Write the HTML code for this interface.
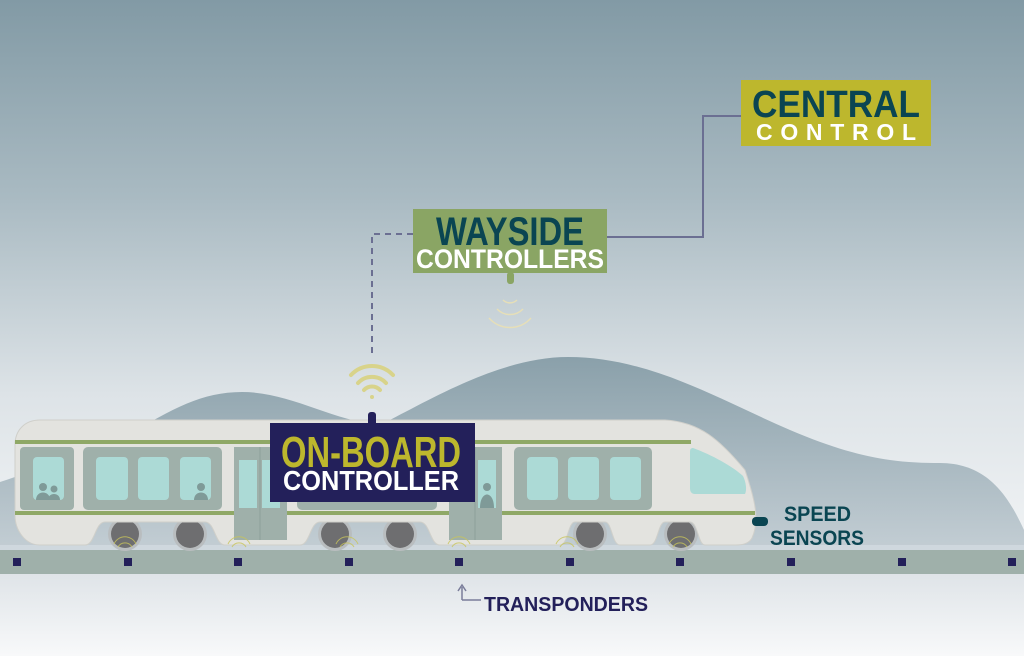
<!DOCTYPE html>
<html><head><meta charset="utf-8"><style>
html,body{margin:0;padding:0;width:1024px;height:656px;overflow:hidden;background:#fff}
svg{display:block}
text{font-family:"Liberation Sans Narrow","Liberation Sans",sans-serif;font-weight:bold}
</style></head><body>
<svg width="1024" height="656" viewBox="0 0 1024 656" xmlns="http://www.w3.org/2000/svg">
<defs>
<linearGradient id="sky" x1="0" y1="0" x2="0" y2="1">
<stop offset="0" stop-color="#829aa5"/><stop offset="0.3" stop-color="#a9bac2"/><stop offset="0.6" stop-color="#dde3e7"/><stop offset="0.8" stop-color="#eef1f3"/><stop offset="1" stop-color="#f6f7f8"/>
</linearGradient>
<linearGradient id="hill" x1="0" y1="0" x2="0" y2="1">
<stop offset="0" stop-color="#8aa0aa"/><stop offset="1" stop-color="#c6d0d6"/>
</linearGradient>
<linearGradient id="gnd" x1="0" y1="0" x2="0" y2="1">
<stop offset="0" stop-color="#dfe4e8"/><stop offset="1" stop-color="#f8f9fa"/>
</linearGradient>
</defs>
<rect width="1024" height="656" fill="url(#sky)"/>
<path d="M0,482 C40,470 70,450 120,440 C170,410 200,392 242,392 C290,392 330,420 380,425 C430,400 500,357 568,357 C650,357 720,400 790,430 C860,460 900,463 940,463 C990,463 1010,500 1024,530 L1024,560 L0,560 Z" fill="url(#hill)"/>
<rect x="0" y="545" width="1024" height="10" fill="#cfd8de"/>
<rect x="0" y="574" width="1024" height="82" fill="url(#gnd)"/>
<rect x="0" y="550" width="1024" height="24" fill="#9fb0aa"/>
<g fill="#23205a">
<rect x="13" y="558" width="8" height="8"/><rect x="124" y="558" width="8" height="8"/><rect x="234" y="558" width="8" height="8"/><rect x="345" y="558" width="8" height="8"/><rect x="455" y="558" width="8" height="8"/><rect x="566" y="558" width="8" height="8"/><rect x="676" y="558" width="8" height="8"/><rect x="787" y="558" width="8" height="8"/><rect x="898" y="558" width="8" height="8"/><rect x="1008" y="558" width="8" height="8"/>
</g>
<g>
<circle cx="125" cy="534" r="17" fill="#b9bdbf"/><circle cx="125" cy="534" r="14" fill="#6e6e70"/>
<circle cx="190" cy="534" r="17" fill="#b9bdbf"/><circle cx="190" cy="534" r="14" fill="#6e6e70"/>
<circle cx="335" cy="534" r="17" fill="#b9bdbf"/><circle cx="335" cy="534" r="14" fill="#6e6e70"/>
<circle cx="400" cy="534" r="17" fill="#b9bdbf"/><circle cx="400" cy="534" r="14" fill="#6e6e70"/>
<circle cx="590" cy="534" r="17" fill="#b9bdbf"/><circle cx="590" cy="534" r="14" fill="#6e6e70"/>
<circle cx="681" cy="534" r="17" fill="#b9bdbf"/><circle cx="681" cy="534" r="14" fill="#6e6e70"/>
</g>
<path d="M40,420 L665,420 C700,422 720,440 745,470 C755,500 760,520 752,538 C748,545 740,545 735,545 L705,545 C698,545 698,522 690,522 L665,522 C658,522 658,545 650,545 L620,545 C612,545 612,522 605,522 L575,522 C568,522 568,545 560,545 L440,545 C430,545 430,522 420,522 L320,522 C310,522 310,545 300,545 L225,545 C215,545 215,522 205,522 L105,522 C95,522 95,545 85,545 L40,545 C25,545 15,530 15,515 L15,445 C15,430 25,420 40,420 Z" fill="#e3e3df" stroke="#cfcfca"/>
<rect x="15" y="440" width="676" height="4" fill="#8fa866"/>
<rect x="15" y="511" width="740" height="4" fill="#8fa866"/>
<g fill="#9fb0aa">
<rect x="20" y="447" width="54" height="63" rx="4"/>
<rect x="83" y="447" width="139" height="63" rx="5"/>
<rect x="297" y="447" width="140" height="63" rx="5"/>
<rect x="514" y="447" width="138" height="63" rx="5"/>
<rect x="234" y="447" width="53" height="93"/>
<rect x="449" y="447" width="53" height="93"/>
</g>
<g fill="#acdad6">
<rect x="33" y="457" width="31" height="43" rx="4"/>
<rect x="96" y="457" width="32" height="43" rx="4"/><rect x="138" y="457" width="31" height="43" rx="4"/><rect x="180" y="457" width="31" height="43" rx="4"/>
<rect x="527" y="457" width="31" height="43" rx="4"/><rect x="568" y="457" width="31" height="43" rx="4"/><rect x="610" y="457" width="31" height="43" rx="4"/>
<rect x="239" y="460" width="18" height="48"/><rect x="262" y="460" width="18" height="48"/>
<rect x="478" y="460" width="18" height="48"/>
<path d="M693,448 C712,455 732,466 743,476 C746,482 747,490 745,494 L695,494 C691,494 690,491 690,488 L690,452 C690,449 691,448 693,448 Z"/>
</g>
<g fill="#7f9a98">
<circle cx="43" cy="487" r="4"/><path d="M36,500 C36,490 50,490 50,500 Z"/>
<circle cx="54" cy="489" r="3.5"/><path d="M48,500 C48,492 60,492 60,500 Z"/>
<circle cx="201" cy="487" r="4"/><path d="M194,500 C194,490 208,490 208,500 Z"/>
<circle cx="487" cy="487" r="4"/><path d="M480,508 C480,490 494,490 494,508 Z"/>
</g>
<line x1="260" y1="447" x2="260" y2="540" stroke="#8ea09a"/>
<line x1="475" y1="447" x2="475" y2="540" stroke="#8ea09a"/>
<rect x="752" y="517" width="16" height="9" rx="4" fill="#0a4552"/>
<g fill="none" stroke="#c8c45a" stroke-width="1" opacity="0.8">
<path d="M118,547 a8,8 0 0 1 14,0 M114,544 a12,12 0 0 1 22,0"/>
<path d="M232,547 a8,8 0 0 1 14,0 M228,544 a12,12 0 0 1 22,0"/>
<path d="M340,547 a8,8 0 0 1 14,0 M336,544 a12,12 0 0 1 22,0"/>
<path d="M452,547 a8,8 0 0 1 14,0 M448,544 a12,12 0 0 1 22,0"/>
<path d="M560,547 a8,8 0 0 1 14,0 M556,544 a12,12 0 0 1 22,0"/>
<path d="M673,547 a8,8 0 0 1 14,0 M669,544 a12,12 0 0 1 22,0"/>
</g>
<polyline points="741,116 703,116 703,237 607,237" fill="none" stroke="#6b6f92" stroke-width="2"/>
<polyline points="413,234 372,234 372,358" fill="none" stroke="#6b6f92" stroke-width="2" stroke-dasharray="6,5"/>
<g fill="none" stroke="#e6dfb8" stroke-width="1.5">
<path d="M503,300 a10,10 0 0 0 14,0"/><path d="M497,309 a18,18 0 0 0 26,0"/><path d="M489,318 a28,28 0 0 0 42,0"/>
</g>
<rect x="507" y="272" width="7" height="12" rx="3" fill="#8aa564"/>
<g fill="none" stroke="#d8d38a" stroke-width="4" stroke-linecap="round">
<path d="M364,390 a11,11 0 0 1 16,0"/><path d="M358,383 a19,19 0 0 1 28,0"/><path d="M351,375 a29,29 0 0 1 42,0"/>
</g>
<circle cx="372" cy="397" r="2" fill="#d8d38a"/>
<rect x="368" y="412" width="8" height="14" rx="3" fill="#23205a"/>
<rect x="741" y="80" width="190" height="66" fill="#bdb72d"/>
<text x="836" y="117" text-anchor="middle" font-size="38" fill="#0a4552" textLength="168" lengthAdjust="spacingAndGlyphs">CENTRAL</text>
<text x="836" y="140" text-anchor="middle" font-size="23" fill="#fff" textLength="160" lengthAdjust="spacing">CONTROL</text>
<rect x="413" y="209" width="194" height="64" fill="#8aa564"/>
<text x="510" y="245" text-anchor="middle" font-size="40" fill="#0a4552" textLength="148" lengthAdjust="spacingAndGlyphs">WAYSIDE</text>
<text x="510" y="268" text-anchor="middle" font-size="27" fill="#fff" textLength="188" lengthAdjust="spacingAndGlyphs">CONTROLLERS</text>
<rect x="270" y="423" width="205" height="79" fill="#23205a"/>
<text x="371" y="467" text-anchor="middle" font-size="44" fill="#bdb72d" textLength="180" lengthAdjust="spacingAndGlyphs">ON-BOARD</text>
<text x="371" y="490" text-anchor="middle" font-size="28" fill="#fff" textLength="176" lengthAdjust="spacingAndGlyphs">CONTROLLER</text>
<text x="784" y="521" font-size="21" fill="#0a4552" textLength="67" lengthAdjust="spacingAndGlyphs">SPEED</text>
<text x="770" y="545" font-size="21" fill="#0a4552" textLength="94" lengthAdjust="spacingAndGlyphs">SENSORS</text>
<polyline points="462,600 462,587" fill="none" stroke="#7a7d9a" stroke-width="1.5"/>
<polyline points="462,600 481,600" fill="none" stroke="#7a7d9a" stroke-width="1.5"/>
<path d="M458,591 L462,585 L466,591" fill="none" stroke="#7a7d9a" stroke-width="1.5"/>
<text x="484" y="611" font-size="20" fill="#23205a" textLength="164" lengthAdjust="spacingAndGlyphs">TRANSPONDERS</text>
</svg>
</body></html>
